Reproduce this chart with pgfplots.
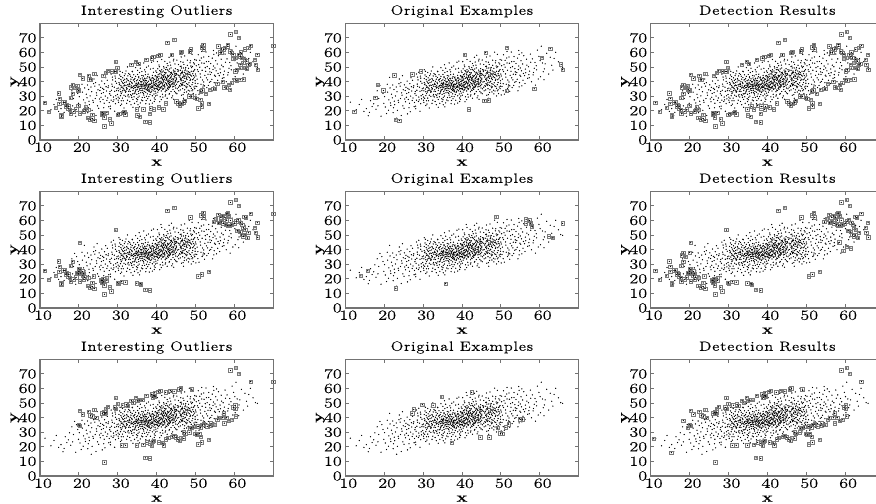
\documentclass[border=0pt]{standalone}
\usepackage{fontspec}
\usepackage{pgfplots}
\usepackage{pgfplotstable}
\pgfplotsset{compat=1.18}
\newfontfamily\wf[FakeStretch=1.3,FakeBold=0.15]{Latin Modern Roman}
\newfontfamily\tf[FakeStretch=1.22,FakeBold=0.25]{Latin Modern Roman}
\pgfplotstableread[row sep=\\]{x y\\
17.3 24.8\\21.9 31.4\\12.8 20.7\\26.4 22.1\\24.1 36.9\\19.2 16.3\\28.7 41.2\\23.6 27.2\\15.4 21.5\\27.1 33.6\\20.8 38.2\\29.4 24.9\\25.7 29.3\\18.6 28.4\\22.3 18.7\\28.2 30.6\\16.5 26.9\\26.9 42.7\\24.8 23.4\\21.2 27.5\\29.1 36.2\\14.2 27.8\\23.3 33.1\\27.8 25.7\\19.7 31.9\\25.2 37.8\\22.7 24.2\\28.9 29.4\\17.9 21.1\\26.1 35.4\\24.4 16.8\\20.3 22.6\\29.7 38.9\\27.4 28.8\\16.2 18.9\\23.9 41.8\\21.5 35.7\\28.4 34.1\\25.5 26.2\\18.2 33.7\\26.7 19.3\\29.9 31.2\\24.6 30.7\\13.6 24.3\\22.1 28.9\\27.6 37.1\\19.9 25.1\\28.1 23.2\\25.9 40.4\\21.1 20.4\\26.3 32.5\\23.1 36.3\\29.3 43.8\\18.9 37.4\\27.2 27.1\\24.9 34.4\\16.9 22.9\\28.6 36.8\\22.9 30.2\\25.1 21.7\\29.6 28.2\\20.1 29.7\\26.6 38.6\\23.7 25.8\\28.3 45.2\\15.9 16.6\\27.9 31.7\\21.7 23.7\\24.3 39.3\\29.2 33.4\\19.4 35.2\\26.2 27.8\\22.5 34.6\\28.8 26.4\\25.4 33.9\\11.3 25.9\\27.3 40.9\\20.6 18.1\\29.8 35.1\\23.4 20.3\\26.8 30.1\\24.2 28.4\\21.4 42.9\\28.5 38.3\\25.6 36.1\\17.6 29.6\\27.7 22.8\\22.2 37.7\\29.5 30.3\\24.7 44.1\\26.5 25.2\\23.2 14.9\\28.0 33.2\\20.9 32.8\\25.8 31.9\\29.0 27.5\\27.5 35.9\\14.8 19.6\\22.6 26.6\\26.0 17.9\\28.9 46.4\\24.5 32.3\\21.6 25.4\\27.0 36.5\\18.4 23.4\\29.4 40.2\\25.3 28.1\\23.8 38.6\\28.3 27.3\\26.4 34.7\\22.4 22.1\\29.7 33.8\\
30.4 37.9\\34.2 29.6\\31.7 44.1\\36.8 33.2\\33.1 26.4\\38.3 41.7\\30.9 31.8\\35.6 46.2\\32.4 35.3\\37.2 24.9\\39.7 37.4\\34.8 40.6\\31.2 28.7\\36.1 36.5\\33.7 42.8\\38.9 30.3\\30.6 34.9\\35.1 27.6\\32.9 38.2\\37.8 45.1\\39.1 33.7\\34.4 35.8\\31.5 40.9\\36.5 41.3\\33.3 31.1\\38.5 36.4\\30.2 25.8\\35.9 32.4\\32.1 47.3\\37.4 38.7\\39.4 28.8\\34.6 43.6\\31.9 33.6\\36.3 29.1\\33.5 37.1\\38.1 34.2\\30.8 41.4\\35.3 39.5\\32.6 30.2\\37.6 31.6\\39.9 43.2\\34.1 36.7\\31.1 36.3\\36.9 48.1\\33.9 33.9\\38.7 39.1\\30.1 29.4\\35.7 35.2\\32.3 42.1\\37.1 35.7\\39.2 46.4\\34.9 31.3\\31.4 26.9\\36.6 38.4\\33.2 40.2\\38.4 27.2\\30.5 44.6\\35.4 42.7\\32.8 33.4\\37.9 40.3\\39.6 35.3\\34.3 25.1\\31.8 37.6\\36.2 44.2\\33.6 29.2\\38.8 42.4\\30.7 33.1\\35.2 37.7\\32.5 27.3\\37.3 34.6\\39.3 31.5\\34.7 38.9\\31.3 42.6\\36.7 30.8\\33.4 35.6\\38.2 37.8\\30.3 39.4\\35.8 25.4\\32.7 36.9\\37.7 43.4\\39.8 38.9\\34.5 33.1\\31.6 30.7\\36.4 34.1\\33.8 46.8\\38.6 33.4\\30.9 36.1\\35.5 30.1\\32.2 39.8\\37.5 36.9\\39.5 41.6\\34.0 41.1\\31.0 24.6\\36.0 39.7\\33.0 34.4\\38.0 29.7\\30.6 47.1\\35.0 34.8\\32.0 32.7\\37.0 41.9\\39.0 36.2\\34.2 37.3\\31.5 35.1\\36.8 37.2\\33.3 43.7\\38.3 35.4\\30.2 33.7\\35.6 40.8\\32.9 29.5\\37.2 32.7\\39.7 30.2\\34.8 28.3\\31.2 39.2\\36.1 27.4\\33.7 38.6\\38.9 44.3\\30.4 28.6\\35.1 44.9\\32.4 41.2\\37.8 38.1\\39.1 40.7\\34.4 32.2\\31.7 34.2\\36.5 36.9\\33.1 36.6\\38.5 32.6\\30.8 37.2\\35.9 37.8\\32.1 37.3\\37.4 29.9\\39.4 34.9\\34.6 36.1\\31.9 45.3\\36.3 42.5\\33.5 30.4\\38.1 38.3\\30.1 35.6\\35.3 33.3\\32.6 43.9\\37.6 39.5\\39.9 36.6\\34.1 44.7\\31.1 32.9\\36.9 35.1\\33.9 27.8\\38.7 35.9\\30.5 38.4\\35.7 38.3\\32.3 34.8\\37.1 46.7\\39.2 39.7\\34.9 36.9\\31.4 38.7\\36.6 31.9\\33.2 33.2\\38.4 40.9\\30.7 30.4\\35.4 36.4\\32.8 45.6\\37.9 33.6\\39.6 43.9\\34.3 39.9\\31.8 41.6\\36.2 35.6\\33.6 39.5\\38.8 37.1\\30.3 42.2\\35.2 29.3\\32.5 37.9\\37.3 37.7\\39.3 35.6\\34.7 34.4\\31.3 35.7\\36.7 39.1\\33.4 41.7\\38.2 43.1\\30.9 26.9\\35.8 41.9\\32.7 31.2\\37.7 35.8\\39.8 32.1\\34.5 37.6\\31.6 37.1\\36.4 32.6\\33.8 36.2\\38.6 38.8\\32.2 35.9\\37.5 42.4\\39.5 38.2\\34.0 35.2\\31.0 40.3\\36.0 33.9\\33.0 38.9\\38.0 36.3\\35.0 38.1\\32.0 29.9\\37.0 36.4\\39.0 42.8\\34.2 31.7\\36.8 40.4\\38.3 31.2\\35.6 34.3\\37.2 37.6\\39.7 40.1\\34.8 37.4\\36.1 38.2\\38.9 36.7\\35.1 36.2\\37.8 34.7\\39.1 38.4\\36.5 35.4\\38.5 41.2\\35.9 40.1\\37.4 40.6\\39.4 37.8\\34.6 33.7\\36.3 37.9\\38.1 33.1\\35.3 38.6\\37.6 33.9\\39.9 35.1\\36.9 42.3\\38.7 40.4\\35.7 36.8\\37.1 39.1\\39.2 41.9\\36.6 40.9\\38.4 38.1\\35.4 43.3\\37.9 36.6\\39.6 33.4\\36.2 37.1\\38.8 34.4\\35.2 35.8\\37.3 38.3\\39.3 39.3\\
45.3 48.2\\41.2 33.6\\47.8 41.4\\43.6 51.3\\49.1 37.9\\40.4 44.8\\46.7 35.2\\42.9 39.7\\48.6 52.9\\44.1 30.2\\41.7 47.3\\47.2 46.4\\43.1 36.4\\49.7 43.1\\40.9 29.6\\46.2 53.6\\42.3 42.8\\48.1 34.1\\44.8 40.9\\41.4 38.6\\47.5 49.7\\43.9 45.6\\49.4 31.8\\40.2 37.2\\46.4 41.8\\42.6 33.9\\48.9 47.1\\44.4 55.4\\41.9 41.3\\47.1 37.4\\43.3 48.7\\49.9 40.6\\40.7 50.2\\46.9 44.6\\42.1 36.8\\48.3 39.2\\44.6 43.7\\41.1 45.9\\47.7 32.9\\43.8 38.3\\49.2 50.4\\40.1 40.7\\46.1 47.8\\42.7 52.4\\48.8 44.3\\44.9 35.6\\41.6 34.7\\47.3 43.9\\43.4 42.2\\49.6 36.3\\40.6 36.1\\46.6 39.1\\42.4 46.1\\48.4 42.7\\44.2 37.9\\41.3 42.6\\47.9 54.7\\43.7 33.2\\49.3 45.4\\40.3 32.8\\46.3 50.6\\42.8 40.4\\48.7 36.7\\44.7 46.7\\41.8 37.1\\47.4 40.2\\43.2 44.1\\49.8 48.3\\40.8 47.6\\46.8 31.1\\42.2 43.4\\48.2 49.1\\44.3 41.6\\41.5 31.3\\47.6 45.2\\43.5 39.8\\49.5 41.9\\40.5 41.9\\46.5 37.3\\42.5 49.7\\48.5 46.2\\45.1 42.4\\41.0 38.9\\47.0 51.8\\43.0 34.8\\49.0 43.8\\40.0 46.3\\46.0 44.1\\42.0 41.7\\48.0 38.1\\45.6 36.2\\41.2 43.1\\47.8 47.3\\43.6 37.6\\49.1 33.7\\40.4 39.2\\46.7 42.9\\42.9 47.8\\48.6 40.8\\44.1 44.9\\41.7 35.1\\47.2 34.4\\43.1 41.1\\49.7 52.1\\40.9 42.4\\46.2 38.7\\42.3 30.9\\48.1 43.3\\44.8 48.9\\41.4 46.6\\47.5 36.9\\43.9 40.1\\49.4 46.9\\40.2 34.6\\46.4 46.2\\42.6 38.3\\48.9 35.4\\44.4 36.7\\41.9 49.3\\47.1 42.3\\43.3 35.9\\49.9 38.9\\40.7 37.8\\46.9 49.4\\42.1 44.7\\48.3 44.9\\44.6 33.3\\41.1 40.3\\47.7 38.6\\43.8 46.4\\49.2 41.3\\40.1 35.4\\46.1 34.3\\42.7 37.4\\48.8 50.7\\44.9 44.3\\41.6 44.2\\47.3 39.9\\43.4 53.4\\49.6 47.4\\40.6 43.7\\46.6 47.2\\42.4 34.2\\48.4 37.1\\44.2 42.1\\41.3 36.7\\47.9 44.6\\43.7 43.2\\49.3 39.4\\40.3 48.8\\46.3 40.6\\42.8 44.3\\48.7 41.7\\44.7 39.6\\41.8 39.9\\47.4 48.6\\43.2 31.4\\49.8 35.2\\40.8 38.2\\46.8 43.4\\42.2 39.2\\48.2 46.7\\44.3 47.9\\41.5 41.4\\47.6 42.1\\43.5 45.1\\49.5 44.2\\40.5 36.9\\46.5 45.8\\42.5 42.1\\48.5 33.6\\45.1 38.2\\41.0 47.1\\47.0 39.3\\43.0 40.2\\49.0 49.6\\40.0 38.3\\46.0 36.8\\42.0 37.9\\48.0 45.7\\45.6 44.4\\41.2 39.4\\47.8 36.4\\43.6 42.7\\40.4 41.1\\46.7 46.3\\42.9 43.3\\44.1 38.9\\41.7 43.4\\47.2 43.7\\43.1 38.6\\40.9 35.8\\46.2 42.4\\42.3 45.9\\44.8 37.2\\41.4 42.2\\43.9 41.6\\40.2 42.9\\46.4 38.1\\42.6 41.4\\44.4 46.6\\41.9 44.6\\43.3 39.5\\40.7 45.3\\42.1 35.7\\44.6 45.3\\41.1 36.3\\43.8 43.9\\40.1 43.6\\42.7 48.4\\44.9 40.3\\41.6 39.1\\43.4 37.1\\40.6 39.6\\42.4 40.9\\44.2 34.6\\41.3 48.1\\43.7 49.4\\40.3 36.4\\42.8 35.3\\44.7 42.6\\41.8 42.9\\43.2 46.8\\40.8 40.1\\42.2 33.1\\44.3 39.1\\41.5 37.7\\43.5 36.6\\40.5 34.1\\42.5 38.7\\45.1 45.6\\41.0 35.7\\43.0 43.6\\40.0 41.8\\42.0 46.3\\
52.4 44.3\\57.1 50.2\\50.6 38.6\\54.3 56.1\\61.2 48.7\\51.7 47.8\\58.3 44.6\\53.1 41.2\\63.7 55.9\\55.6 52.1\\50.2 54.7\\59.8 57.3\\52.9 35.9\\56.4 46.1\\54.8 39.3\\60.7 52.8\\51.3 43.1\\57.9 39.9\\53.6 48.9\\65.4 50.3\\55.1 43.7\\50.9 31.4\\62.3 45.2\\52.2 52.6\\58.8 53.1\\54.1 46.2\\56.9 42.3\\51.1 49.9\\60.2 43.4\\53.3 37.4\\55.9 57.8\\50.4 41.7\\64.1 60.1\\57.4 47.2\\52.7 60.3\\54.6 50.7\\59.2 48.1\\51.9 36.3\\56.2 38.7\\53.8 44.9\\61.8 59.4\\50.7 46.9\\58.1 55.6\\55.3 47.4\\52.1 39.8\\63.1 51.2\\54.4 33.7\\57.6 58.9\\51.5 56.2\\59.6 41.8\\53.4 53.8\\56.7 51.3\\50.1 43.9\\60.9 46.8\\52.6 47.1\\55.7 40.9\\58.6 49.2\\54.9 44.4\\51.8 41.1\\62.7 56.7\\53.0 50.3\\57.2 44.8\\50.5 48.1\\65.9 49.8\\55.4 37.1\\52.3 33.4\\59.4 61.6\\54.2 41.6\\61.4 52.2\\51.2 45.3\\56.6 55.4\\53.7 46.7\\58.4 46.3\\50.8 51.6\\60.4 64.3\\55.0 49.4\\52.8 42.6\\57.7 53.3\\54.7 58.7\\51.4 38.2\\63.4 47.9\\56.1 44.1\\53.9 40.1\\59.1 50.9\\50.3 36.7\\61.1 41.3\\52.5 49.6\\55.8 45.6\\58.9 37.6\\54.5 48.3\\51.6 52.8\\57.3 42.7\\53.2 45.1\\64.8 53.6\\56.3 48.6\\50.0 45.2\\60.1 54.4\\52.0 37.7\\55.2 54.3\\
28.6 43.1\\30.3 48.2\\33.7 47.1\\31.2 46.3\\34.6 49.6\\29.4 42.4\\32.5 50.1\\35.8 49.2\\30.8 43.5\\33.1 44.9\\36.7 52.8\\37.9 50.7\\39.2 54.1\\35.1 47.7\\38.4 48.6\\41.3 55.2\\36.2 46.9\\40.6 51.4\\43.2 56.7\\37.4 49.9\\39.8 47.3\\42.1 53.9\\44.7 52.1\\38.7 53.3\\41.8 50.3\\35.5 51.6\\43.8 58.1\\40.2 53.7\\42.9 50.9\\44.3 54.2\\39.1 49.1\\41.1 57.2\\37.1 44.8\\45.6 51.7\\47.2 57.6\\49.8 55.1\\46.3 56.9\\48.4 60.2\\50.7 58.4\\52.1 56.9\\46.8 53.3\\49.1 58.7\\51.6 60.7\\53.4 57.2\\47.9 51.2\\50.2 50.9\\54.6 61.3\\45.2 54.8\\48.7 54.3\\52.8 53.7\\51.1 54.6\\53.9 52.4\\55.4 59.7\\46.1 50.4\\49.5 52.9\\
28.1 21.4\\30.7 23.6\\33.4 24.2\\31.6 21.9\\34.9 26.3\\29.2 19.7\\32.3 25.1\\35.6 22.7\\30.1 27.3\\33.9 22.4\\36.4 26.9\\38.1 24.6\\39.6 27.8\\35.2 24.1\\37.7 28.3\\40.8 26.2\\36.9 29.2\\41.6 29.4\\38.9 25.3\\43.3 31.9\\40.1 30.7\\42.7 28.6\\44.9 32.3\\39.4 26.4\\41.2 27.7\\37.3 27.1\\43.9 28.9\\42.2 30.1\\45.7 33.7\\47.6 35.8\\49.3 34.4\\46.4 30.7\\48.2 31.6\\50.6 33.8\\52.3 37.1\\47.1 32.6\\49.9 36.9\\51.7 35.3\\53.6 39.6\\46.9 28.6\\48.9 30.2\\54.7 36.4\\45.2 31.7\\50.1 30.9\\44.4 27.9\\
31.3 33.9\\33.8 31.6\\36.9 37.6\\34.2 41.4\\38.6 36.1\\32.7 40.7\\35.4 31.9\\37.6 35.1\\39.7 44.2\\41.4 35.6\\43.6 46.1\\45.4 39.7\\47.3 47.6\\44.7 47.2\\46.7 37.9\\42.9 36.2\\45.1 41.3\\40.7 34.8\\48.6 45.1\\46.2 45.3\\44.1 36.4\\42.3 48.2\\45.8 43.2\\47.7 43.1\\43.4 40.9\\45.5 46.9\\41.9 37.3\\44.5 43.8\\46.4 49.3\\45.9 37.4\\44.2 40.4\\45.3 35.1\\46.8 40.7\\45.7 40.1\\44.6 38.4\\45.2 44.7\\46.1 41.6\\47.4 45.3\\44.8 45.4\\45.6 47.9\\33.5 36.1\\35.9 35.3\\37.2 40.7\\34.9 38.9\\36.2 39.9\\32.1 33.4\\34.4 42.2\\38.1 42.6\\39.9 40.4\\36.6 43.9\\35.1 41.2\\31.8 39.4\\33.1 37.9\\37.8 37.4\\40.4 37.7\\42.7 42.6\\41.2 44.7\\43.3 38.1\\39.3 37.1\\41.7 40.6\\
}\cloud
\pgfplotstableread[row sep=\\]{x y\\
11.2 25.5\\12.3 19.3\\14.1 22\\14.8 32\\15.1 28.4\\15 24.8\\15.5 17\\15.5 16.2\\16 25.7\\16.4 25.7\\16.9 24\\17.3 21.8\\17.7 20.6\\17.3 23\\16.7 23\\17.9 18\\18.6 19.5\\19.3 21\\19.9 23.4\\17.9 28.7\\18.4 31.7\\18.4 37.8\\18 36.2\\19 35.6\\19.6 37\\19.7 34.4\\19.9 34\\20.3 18.3\\20.3 44.7\\21 42.2\\21.6 20.6\\21.8 22.5\\22.4 20.6\\21.3 19.5\\22.3 15\\23 14\\23.5 17.2\\23.5 14.7\\24 13.3\\22.5 44\\22.7 41.7\\23.1 41.3\\24 45.2\\26 18.8\\26 17.2\\26.3 17.9\\27.2 18.8\\26.5 15.6\\26.6 9.4\\28 14.2\\28.4 11.5\\26.3 44\\27 45.9\\27.5 47.5\\28.5 47\\29.2 47\\29.5 47\\29.5 53.4\\29.9 49.3\\30 17.4\\30.4 17.9\\31.4 18.8\\31.7 19.3\\32 17.7\\33.5 51.6\\34.7 53.7\\35.3 52.3\\34.9 21\\35 17\\35.7 16\\36.6 21\\38.3 18\\38.5 21.6\\39.3 21\\37.1 12.4\\38.3 12\\37.3 55\\38.7 56\\39.2 56.9\\40.4 57.8\\40.9 58.3\\40.6 22.5\\41.7 21\\42.4 25.2\\42.8 66.7\\44.5 68.6\\43.9 58.5\\45.1 26.4\\45.6 25.2\\46 23.4\\47 25.7\\46.4 24.8\\47.3 27\\46.2 59.6\\46.4 60.3\\48.6 60.8\\48.8 62\\48.4 29.8\\49 29.8\\49.9 28.7\\50.3 28.2\\51.2 27.5\\51.6 25.2\\50.7 21.8\\51.6 23\\51.4 33.3\\51.8 34\\52.7 31.7\\53.5 24.8\\53.7 34.4\\54.6 34.9\\55 34.9\\51.6 63.5\\52 65.4\\52.2 62\\55.6 38.5\\57 40\\57.4 36.2\\58 35.6\\58.6 37.8\\58.9 34.4\\59.3 39\\60.2 41.3\\60.6 41\\61.5 41.3\\62.4 41.7\\59 72.3\\60.4 74\\61.2 70\\55.9 64.2\\56.7 62.4\\57.2 62\\57.6 63\\58.3 64.2\\58.3 65.4\\58.9 60.8\\59.3 59.6\\59.7 58.5\\56.3 60\\56.7 60\\59.7 55.5\\60.4 56.2\\61.1 58.5\\61.6 60\\61.5 57.3\\61.9 56.2\\60.2 47\\60.6 48.2\\61.5 51.6\\61.6 49.3\\62.3 52.8\\62.7 55\\63.2 53.9\\63.6 51.6\\63.9 52.3\\62.7 62\\63.6 63\\64.2 64.7\\65.3 55\\65.5 51.6\\66 48.2\\65.9 58.5\\63.2 48.6\\62.7 49.3\\
}\sqA
\pgfplotstableread[row sep=\\]{x y\\
12.3 19.3\\17.7 28.9\\18.4 37.6\\19.8 33.9\\22.6 44.3\\23 13.8\\23.9 13.3\\27.2 45\\29.5 47\\40.7 58.3\\41.8 20.9\\46.1 59.9\\45.8 26.8\\46.9 27.3\\51.6 63.3\\51.5 33.5\\58.6 35.1\\60.6 56.4\\62.7 62.6\\65.5 51.8\\65.9 48.2\\
}\sqB
\pgfplotstableread[row sep=\\]{x y\\
36 23\\37.5 23.5\\38.5 23\\39.5 23\\
}\sqC
\pgfplotstableread[row sep=\\]{x y\\
11.2 25.5\\12.3 19.3\\14.1 22\\14.8 32\\15.1 28.4\\15 24.8\\15.5 17\\15.5 16.2\\16 25.7\\16.4 25.7\\16.9 24\\17.3 21.8\\17.7 20.6\\17.3 23\\16.7 23\\17.9 18\\18.6 19.5\\19.3 21\\19.9 23.4\\17.9 28.7\\18.4 31.7\\20 27\\20.3 26.5\\20 25\\20.5 24\\21 25\\21.2 23.5\\21 22\\21.5 21\\19.5 24\\20.3 18.3\\20.3 44.7\\21.3 19.5\\22.4 20.6\\22.3 15\\23 14\\23.5 17.2\\23.5 14.7\\24 13.3\\23.8 21.8\\26 18.8\\26 17.2\\26.3 17.9\\27.2 18.8\\26.5 15.6\\26.6 9.4\\26.3 20\\27.2 20.5\\25.8 19\\28 14.2\\28.4 11.5\\29.5 53.4\\30 17.4\\30.1 16.9\\31 18\\32 17.7\\34.9 17\\36 16\\35.8 16.7\\37.1 12.4\\38.3 12\\42.8 66.7\\44.5 68.6\\48.7 62\\51.5 63.5\\52 65.4\\52.2 62\\50.7 21.8\\51.6 23\\53.5 24.8\\54.7 59\\55.3 61\\55.9 64\\56.5 62\\57 63\\57.6 62\\58 64.5\\58.3 65\\58.6 63\\56 58.5\\56.6 59\\57.2 58\\57.8 57\\58.3 56.5\\58.9 56.5\\59.3 57\\58 60\\59 60\\60 58\\60.5 59.5\\61 60.5\\61.6 58.5\\62 57\\60.8 53\\61.5 52\\61.9 50\\62.3 49\\62.7 50\\63.3 48\\62.3 55\\62.8 53.5\\63 62\\62.6 62.5\\63.6 51.6\\64.2 64.7\\65.3 55\\65.5 51.6\\66 48.4\\65.9 58.5\\59 72.3\\60.4 74\\61.2 70\\
}\sqD
\pgfplotstableread[row sep=\\]{x y\\
14 22\\15.8 25.5\\23 13.5\\35.8 16.7\\48.8 62.4\\56.5 60.8\\57.4 60\\56.5 58\\57.7 58\\58 56\\62.4 49\\63.4 48.2\\65.9 58\\
}\sqE
\pgfplotstableread[row sep=\\]{x y\\
18.4 37.8\\18 36\\19 35\\20 38\\59.5 39\\60.5 42\\61.5 41\\58.5 45\\
}\sqF
\pgfplotstableread[row sep=\\]{x y\\
20.3 44.7\\21 42.2\\20 35\\20.2 34.4\\22.5 44\\23 41.5\\23.5 41\\24 45.2\\24.5 40\\26 43\\26.5 43.5\\27 45.9\\27.5 47.5\\27 43.5\\26.6 42.5\\29.2 47\\29.5 46\\29.5 53.4\\30 49.3\\31.3 48.5\\32.2 49\\32.6 48\\33.5 51.6\\34 50\\34.7 53.7\\35 51.5\\35.5 52\\36.3 52\\37.3 55\\38.7 56\\39.2 55\\39.6 54.5\\39.5 57\\40.4 57.8\\40.9 58.3\\42.3 57.3\\43.5 58.5\\44.5 58\\45.8 59.3\\46.2 60\\49 59.5\\26.6 9.4\\31 21\\32 21\\34.9 21\\36.6 21.5\\37.5 23\\38.3 22.5\\39 23.5\\38.8 20.5\\39.3 24\\40.6 23\\41.6 22.6\\41.8 21\\42.4 25\\37.1 12.4\\38.3 12\\43 26\\44 27\\44.5 27.5\\45 26.5\\45.5 25\\46 24\\46.3 26\\47 25.7\\47 30\\47.4 29\\48.4 29.8\\48.6 32.5\\49 33\\49.6 33.5\\49.9 28.7\\50.3 28.2\\51 29\\51.4 27\\50.7 21.8\\51.6 23\\53.5 24.8\\50.7 34\\51.3 33.3\\51.8 35\\52.2 35.5\\53 34\\53.7 34.4\\54 36\\55 34.9\\55.6 38.5\\56 40\\57 40\\57.3 43\\57.4 36.2\\58 40\\58.6 37.8\\59.4 38.5\\59.7 47\\60.2 48.5\\60.4 41\\60.2 46\\59 72.3\\60.4 74\\61.2 70\\64.2 64.7\\39.5 55\\39 54\\
}\sqG
\pgfplotstableread[row sep=\\]{x y\\
27.2 43\\27.6 45.6\\29.8 48.9\\32.6 48.4\\34.8 54.1\\42.5 57.3\\37.4 22.9\\44.7 26.6\\47 26.4\\49.9 29.1\\50.4 28.9\\49.2 32.8\\51.3 33.3\\52 35.5\\55 38.8\\55.6 38.8\\
}\sqH
\pgfplotstableread[row sep=\\]{x y\\
70 64.5\\
}\sqFar
\pgfplotstableread[row sep=\\]{x y\\
10.8 25.5\\15.3 16\\18.4 38\\19.5 33\\
}\sqI
\pgfplotsset{
  panel/.style={
    scale only axis, width=233.3bp, height=116.7bp,
    anchor=north west,
    xmin=10, xmax=70, ymin=0, ymax=80,
    xtick={10,20,...,60}, ytick={0,10,...,70},
    tick align=inside, major tick length=3.5bp,
    tick style={color=black!55,line width=0.9bp},
    axis line style={color=black!55,line width=1.1bp},
    /pgf/number format/assume math mode=true,
    tick label style={font=\fontsize{14}{14}\selectfont\wf},
    x tick label style={yshift=1bp,xshift=3bp},
    title style={font=\fontsize{13.5}{14}\selectfont\tf\addfontfeature{LetterSpace=6},at={(0.5,1)},yshift=-4bp,text height=9bp,text depth=3bp},
    xlabel={\textbf{x}}, ylabel={\textbf{y}},
    label style={font=\fontsize{14}{14}\selectfont\wf},
    xlabel style={yshift=-0.5bp},
    clip=true,
  },
  dots/.style={only marks,mark=*,mark size=0.38bp,mark options={draw=none,fill=black!92}},
  boxes/.style={only marks,mark=square,mark size=1.7bp,mark options={draw=black!52,line width=0.7bp}},
}
\newcommand{\panel}[4]{%
\begin{axis}[panel,at={(#1bp,#2bp)},title={#3},ylabel style={at={(rel axis cs:0,0.5)},anchor=center,yshift=25bp}]
\addplot[dots] table {\cloud};
\foreach \t in {#4}{\edef\tmp{\noexpand\addplot[boxes] table {\expandafter\noexpand\t};}\tmp
\edef\tmp{\noexpand\addplot[dots] table {\expandafter\noexpand\t};}\tmp}
\end{axis}}
\begin{document}
\begin{tikzpicture}[x=1bp,y=1bp]
\useasboundingbox (0,0) rectangle (876,504);
\clip (0,0) rectangle (876,504);
\panel{40}{480.7}{Interesting Outliers}{\sqA,\sqFar}
\panel{345.3}{480.7}{Original Examples}{\sqB}
\panel{650.7}{480.7}{Detection Results}{\sqA,\sqC}
\panel{40}{312.7}{Interesting Outliers}{\sqD,\sqFar}
\panel{345.3}{312.7}{Original Examples}{\sqE}
\panel{650.7}{312.7}{Detection Results}{\sqD,\sqF}
\panel{40}{144.7}{Interesting Outliers}{\sqG,\sqFar}
\panel{345.3}{144.7}{Original Examples}{\sqH}
\panel{650.7}{144.7}{Detection Results}{\sqG,\sqI}
\end{tikzpicture}
\end{document}
